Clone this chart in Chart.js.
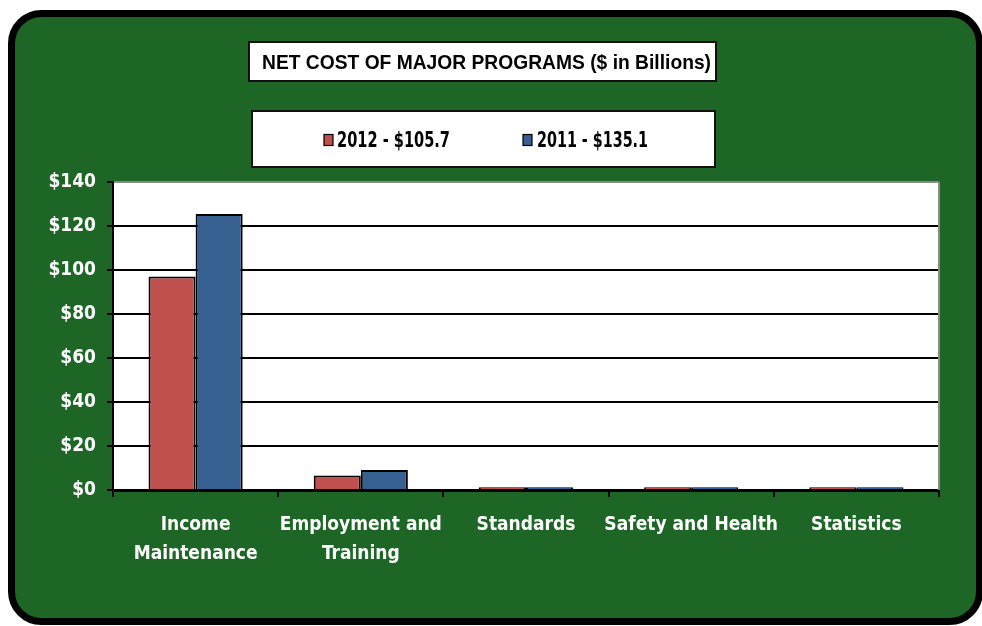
<!DOCTYPE html>
<html>
<head>
<meta charset="utf-8">
<script src="https://cdn.jsdelivr.net/npm/chart.js@4.4.1/dist/chart.umd.min.js"></script>
<style>
html,body{margin:0;padding:0;background:#fff;}
canvas{display:block;}
</style>
</head>
<body>
<canvas id="c" width="982" height="626"></canvas>
<script>
const chartTitle = 'NET COST OF MAJOR PROGRAMS ($ in Billions)';
const categories = [['Income', 'Maintenance'], ['Employment and', 'Training'], 'Standards', 'Safety and Health', 'Statistics'];
const seriesLabels = ['2012 - $105.7', '2011 - $135.1'];
const values2012 = [97.0, 6.6, 1.3, 1.3, 1.3];
const values2011 = [125.4, 9.1, 1.3, 1.3, 1.3];
const yTickMax = 140;
const yTickStep = 20;

const NARROW = "'Liberation Sans Narrow', 'DejaVu Sans Condensed', 'Arial Narrow', sans-serif";
const WIDE = "'Liberation Sans', Arial, sans-serif";

function fitText(ctx, text, x, y, targetW, align) {
  const w = ctx.measureText(text).width;
  const s = targetW / w;
  ctx.save();
  let x0 = x;
  if (align === 'center') x0 = x - targetW / 2;
  ctx.translate(x0, y);
  ctx.scale(s, 1);
  ctx.textAlign = 'left';
  ctx.fillText(text, 0, 0);
  ctx.restore();
}

function roundRect(ctx, x, y, w, h, r) {
  ctx.beginPath();
  ctx.moveTo(x + r, y);
  ctx.lineTo(x + w - r, y);
  ctx.arcTo(x + w, y, x + w, y + r, r);
  ctx.lineTo(x + w, y + h - r);
  ctx.arcTo(x + w, y + h, x + w - r, y + h, r);
  ctx.lineTo(x + r, y + h);
  ctx.arcTo(x, y + h, x, y + h - r, r);
  ctx.lineTo(x, y + r);
  ctx.arcTo(x, y, x + r, y, r);
  ctx.closePath();
}

const decor = {
  id: 'decor',
  beforeDraw(chart) {
    const ctx = chart.ctx;
    const a = chart.chartArea;
    ctx.save();
    ctx.fillStyle = '#ffffff';
    ctx.fillRect(0, 0, chart.width, chart.height);
    roundRect(ctx, 11.5, 13.5, 968, 608, 30);
    ctx.fillStyle = '#1D6626';
    ctx.fill();
    ctx.lineWidth = 7;
    ctx.strokeStyle = '#000000';
    ctx.stroke();
    // plot area
    ctx.fillStyle = '#ffffff';
    ctx.fillRect(a.left, a.top, a.right - a.left, a.bottom - a.top);
    // title box
    ctx.fillStyle = '#ffffff';
    ctx.fillRect(249, 42, 467, 39);
    ctx.lineWidth = 2;
    ctx.strokeStyle = '#111111';
    ctx.strokeRect(249, 42, 467, 39);
    ctx.fillStyle = '#000000';
    ctx.font = 'bold 21px ' + WIDE;
    ctx.textBaseline = 'middle';
    fitText(ctx, chartTitle, 486.5, 63, 449, 'center');
    // legend box
    ctx.fillStyle = '#ffffff';
    ctx.fillRect(252, 111, 463, 56);
    ctx.strokeStyle = '#111111';
    ctx.lineWidth = 2;
    ctx.strokeRect(252, 111, 463, 56);
    const items = [{bx: 324, tx: 337, tw: 113}, {bx: 523, tx: 537, tw: 111}];
    chart.data.datasets.forEach((ds, i) => {
      const it = items[i];
      ctx.fillStyle = ds.backgroundColor;
      ctx.fillRect(it.bx, 134.5, 9, 11);
      ctx.lineWidth = 1.2;
      ctx.strokeStyle = '#000';
      ctx.strokeRect(it.bx, 134.5, 9, 11);
      ctx.fillStyle = '#000000';
      ctx.font = 'bold 22px ' + NARROW;
      ctx.textBaseline = 'middle';
      fitText(ctx, ds.label, it.tx, 141, it.tw, 'left');
    });
    ctx.restore();
  },
  beforeDatasetsDraw(chart) {
    const ctx = chart.ctx;
    const a = chart.chartArea;
    ctx.save();
    ctx.strokeStyle = '#8a8a8a';
    ctx.lineWidth = 2;
    ctx.beginPath();
    ctx.moveTo(a.right, a.top);
    ctx.lineTo(a.right, a.bottom);
    ctx.stroke();
    ctx.restore();
  }
};

new Chart(document.getElementById('c'), {
  type: 'bar',
  data: {
    labels: categories,
    datasets: [
      {label: seriesLabels[0], data: values2012, backgroundColor: '#C0504D', borderColor: '#000000', borderWidth: 2},
      {label: seriesLabels[1], data: values2011, backgroundColor: '#35608F', borderColor: '#000000', borderWidth: 2}
    ]
  },
  options: {
    responsive: false,
    devicePixelRatio: 1,
    animation: false,
    layout: {padding: {left: 16, right: 43, top: 182, bottom: 20}},
    datasets: {bar: {categoryPercentage: 0.57, barPercentage: 1.0}},
    plugins: {legend: {display: false}, title: {display: false}, tooltip: {enabled: false}},
    scales: {
      x: {
        afterFit(scale) { scale.height = 116; },
        grid: {display: true, drawOnChartArea: false, drawTicks: true, tickLength: 7, color: '#000', lineWidth: 2, offset: true},
        border: {display: true, color: '#000', width: 3},
        ticks: {color: '#ffffff', font: {family: NARROW, size: 19, weight: 'bold', lineHeight: 1.55}, padding: 13, maxRotation: 0, autoSkip: false}
      },
      y: {
        min: 0, max: yTickMax,
        afterFit(scale) { scale.width = 97; },
        grid: {color: (c) => (c.tick && c.tick.value === yTickMax) ? '#8a8a8a' : '#000000', tickColor: '#000', lineWidth: 2, tickLength: 6},
        border: {display: true, color: '#000', width: 2},
        ticks: {stepSize: yTickStep, color: '#ffffff', padding: 11, font: {family: NARROW, size: 19, weight: 'bold'}, callback: (v) => '$' + v}
      }
    }
  },
  plugins: [decor]
});
</script>
</body>
</html>
